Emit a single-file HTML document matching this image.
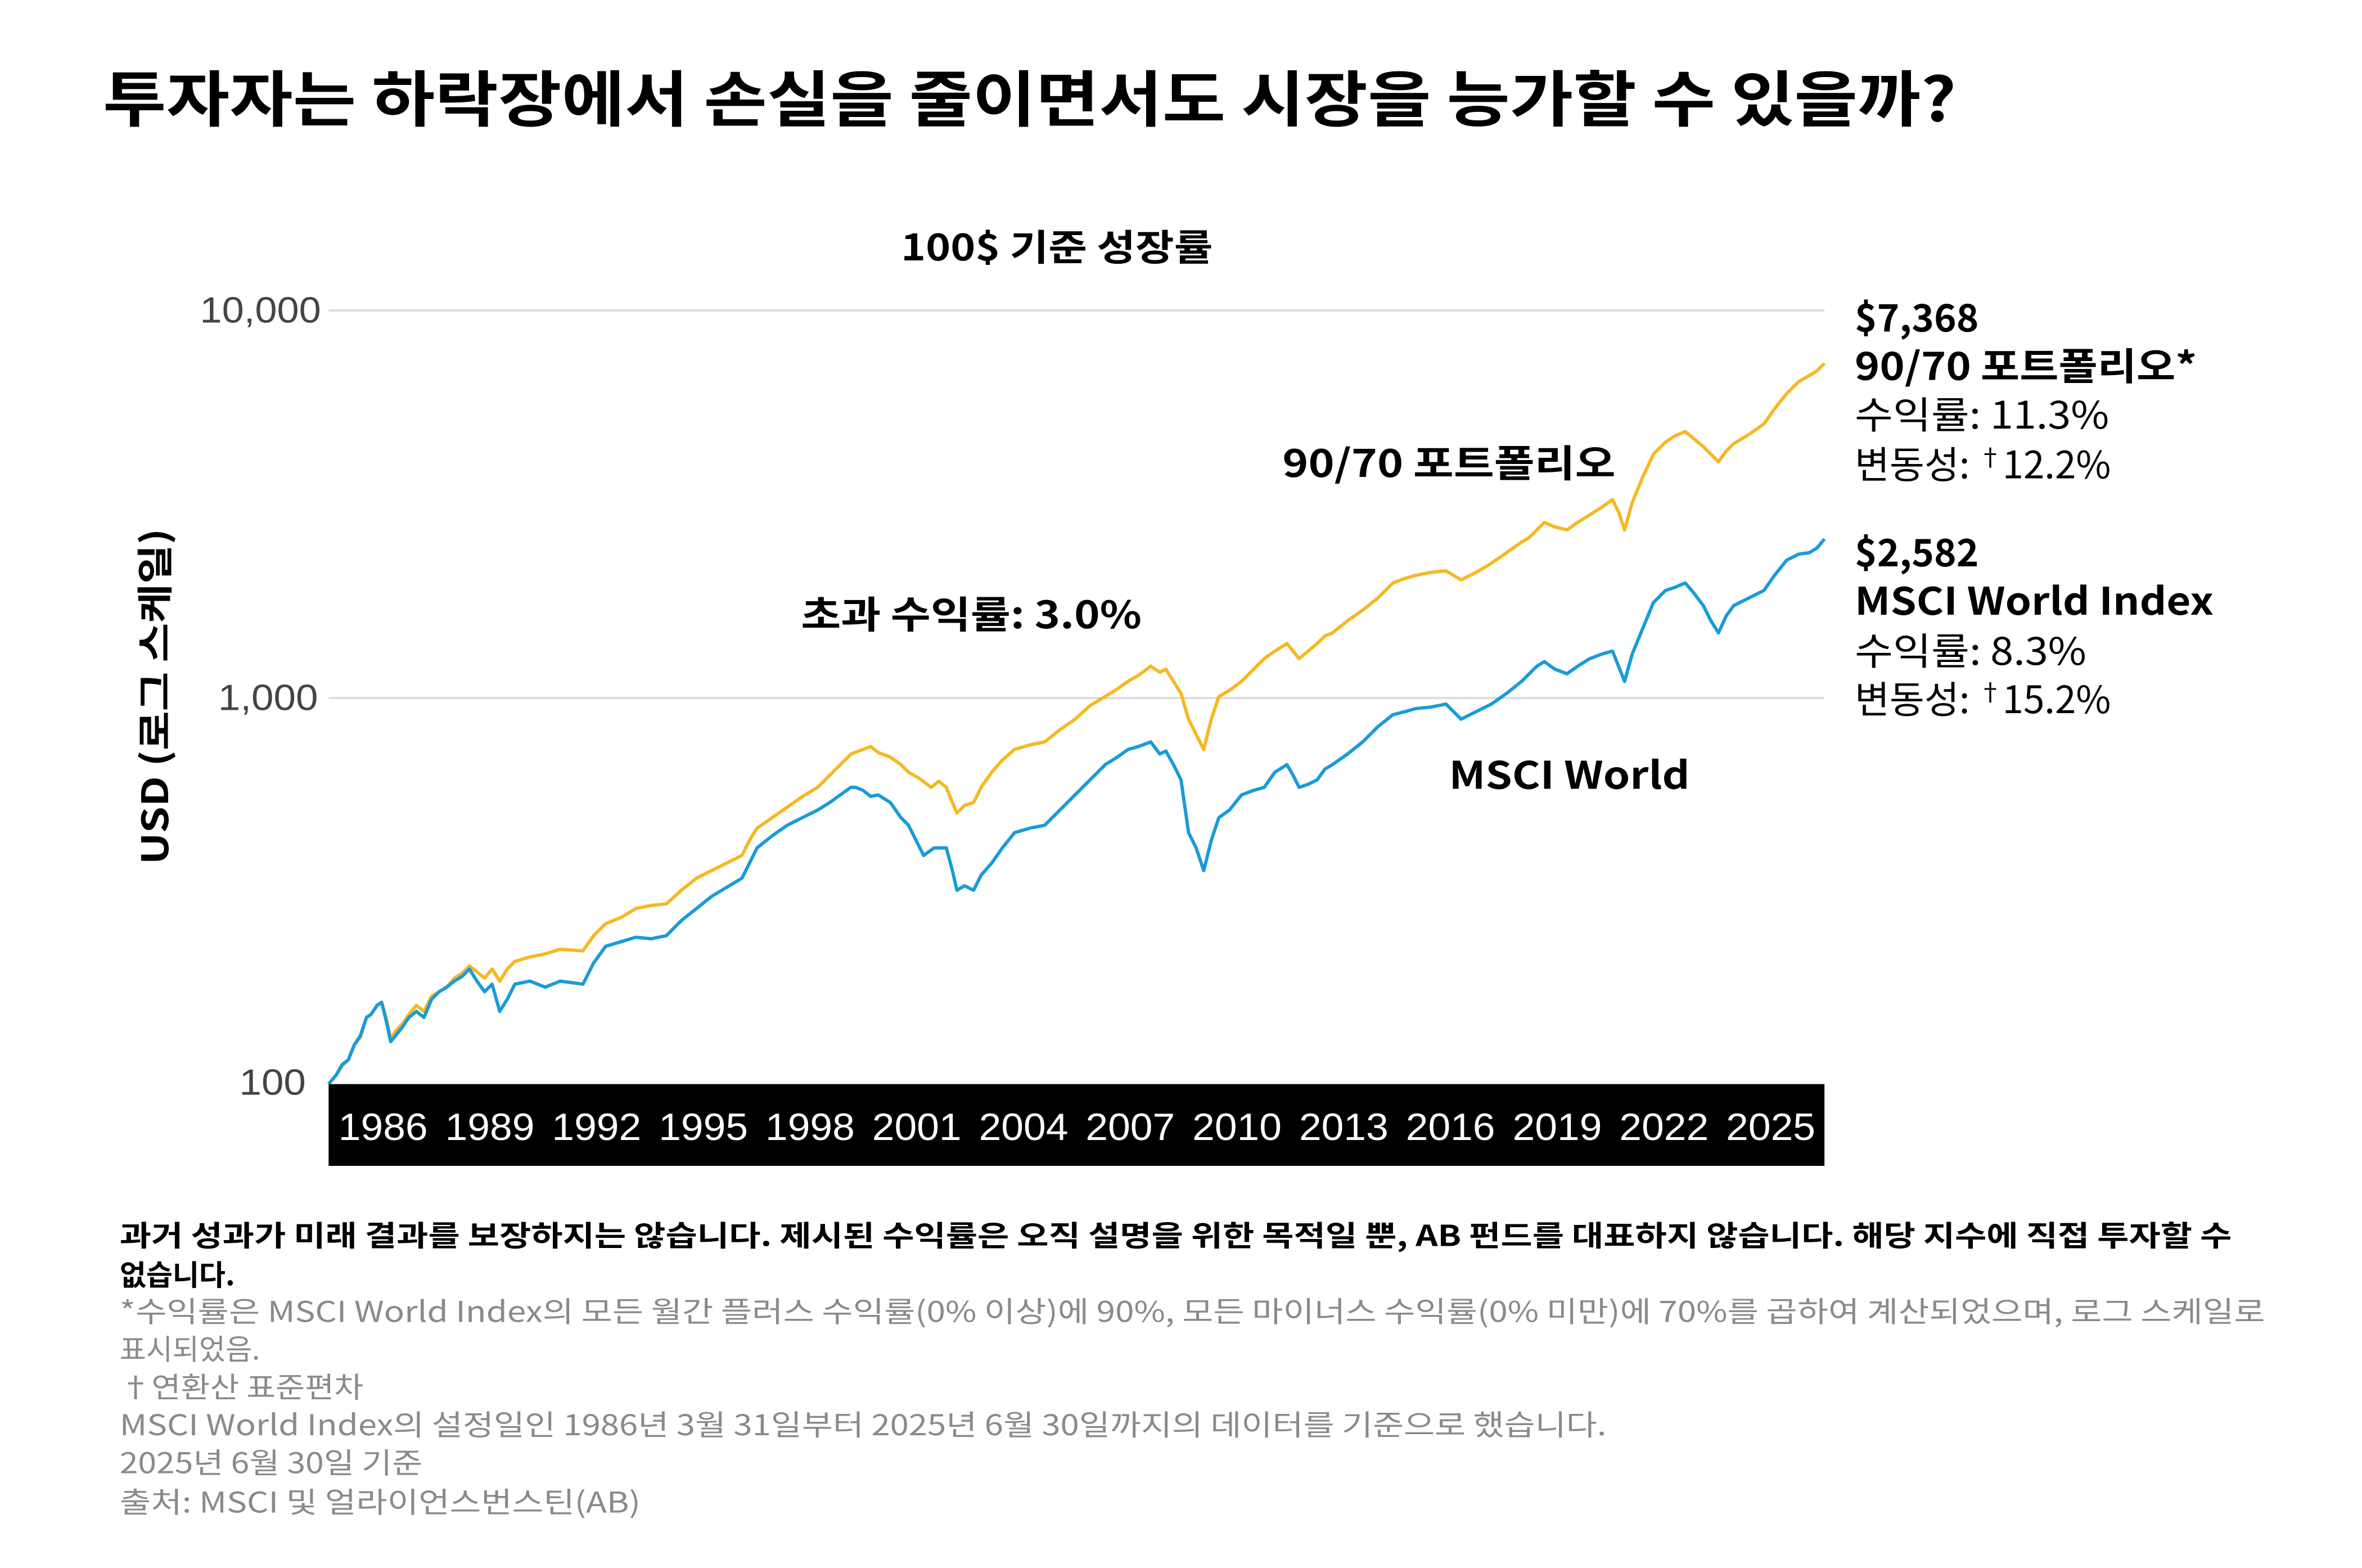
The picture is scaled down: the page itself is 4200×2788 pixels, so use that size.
<!DOCTYPE html>
<html><head><meta charset="utf-8">
<style>
html,body{margin:0;padding:0;background:#fff;}
svg{display:block;}
.k{font-family:"Noto Sans CJK KR","Liberation Sans",sans-serif;}
.l{font-family:"Liberation Sans",sans-serif;}
</style></head>
<body>
<svg width="4200" height="2788" viewBox="0 0 1560 1035.6" xmlns="http://www.w3.org/2000/svg">
<rect width="1560" height="1036" fill="#fff"/>
<text class="k" x="68" y="80" font-size="40" font-weight="700" fill="#000" textLength="1224" lengthAdjust="spacingAndGlyphs">투자자는 하락장에서 손실을 줄이면서도 시장을 능가할 수 있을까?</text>
<text class="k" x="698" y="172" font-size="24" font-weight="700" text-anchor="middle" textLength="206" lengthAdjust="spacingAndGlyphs">100$ 기준 성장률</text>

<line x1="217" y1="205" x2="1205" y2="205" stroke="#ddd" stroke-width="1.5"/>
<line x1="217" y1="461" x2="1205" y2="461" stroke="#ddd" stroke-width="1.5"/>
<text class="l" x="212" y="213" font-size="24" fill="#444" text-anchor="end" textLength="80" lengthAdjust="spacingAndGlyphs">10,000</text>
<text class="l" x="210" y="469" font-size="24" fill="#444" text-anchor="end" textLength="66" lengthAdjust="spacingAndGlyphs">1,000</text>
<text class="l" x="202" y="723" font-size="24" fill="#444" text-anchor="end" textLength="44" lengthAdjust="spacingAndGlyphs">100</text>

<text class="k" transform="translate(111,460) rotate(-90)" font-size="24" font-weight="700" text-anchor="middle" textLength="222" lengthAdjust="spacingAndGlyphs">USD (로그 스케일)</text>

<polyline fill="none" stroke="#f6b824" stroke-width="2.2" stroke-linejoin="round" points="217,716 222,710 226,704 230,700 234,690 238,685 242,672 245,670 249,664 252,662 255,672 258,686 262,680 266,676 270,670 275,664 280,668 285,658 290,655 295,652 300,646 305,643 310,638 315,642 320,646 325,640 330,648 335,640 340,635 350,632 360,630 370,627 385,628 392,618 400,610 410,606 420,600 430,598 440,597 450,588 460,580 470,575 480,570 490,565 495,555 500,547 510,540 520,533 530,526 540,520 548,512 555,505 562,498 570,495 575,493 580,497 588,500 595,505 600,510 607,514 615,520 620,516 625,520 629,530 632,537 637,532 643,530 648,520 655,510 662,502 670,495 680,492 690,490 700,482 710,475 720,466 730,460 738,455 745,450 752,446 760,440 766,444 770,442 775,450 780,458 785,475 790,485 795,495 800,475 805,460 812,456 820,450 828,442 835,435 842,430 850,425 854,430 858,435 864,430 870,425 875,420 880,418 890,410 900,403 910,395 920,385 928,382 935,380 945,378 955,377 960,380 965,383 975,378 985,372 995,365 1005,358 1010,355 1015,350 1020,345 1027,348 1035,350 1042,345 1050,340 1058,335 1065,330 1069,338 1073,350 1078,332 1085,315 1092,300 1100,292 1106,288 1113,285 1119,290 1125,295 1130,300 1135,305 1140,298 1145,293 1155,287 1165,280 1172,270 1180,260 1188,252 1195,248 1200,245 1205,240"/>

<polyline fill="none" stroke="#1a9bd8" stroke-width="2.2" stroke-linejoin="round" points="217,716 222,710 226,703 230,700 234,690 238,684 242,672 245,670 249,664 252,662 255,674 258,688 262,683 266,678 270,672 275,668 280,672 285,660 290,655 295,652 300,648 305,645 310,640 315,648 320,655 325,650 330,668 335,660 340,650 350,648 360,652 370,648 385,650 392,636 400,625 410,622 420,619 430,620 440,618 450,608 460,600 470,592 480,586 490,580 495,570 500,560 510,552 520,545 530,540 540,535 548,530 555,525 562,520 565,520 570,522 575,526 580,525 588,530 595,540 600,545 605,555 610,565 617,560 625,560 629,575 632,588 637,585 643,588 648,578 655,570 662,560 670,550 680,547 690,545 700,535 710,525 720,515 730,505 738,500 745,495 752,493 760,490 766,498 770,496 775,505 780,515 785,550 790,560 795,575 800,555 805,540 812,535 820,525 828,522 835,520 842,510 850,505 854,512 858,520 864,518 870,515 875,508 880,505 890,498 900,490 910,480 920,472 928,470 935,468 945,467 955,465 960,470 965,475 975,470 985,465 995,458 1005,450 1010,445 1015,440 1020,437 1027,442 1035,445 1042,440 1050,435 1058,432 1065,430 1069,440 1073,450 1078,432 1085,415 1092,398 1100,390 1106,388 1113,385 1119,392 1125,400 1130,410 1135,418 1140,407 1145,400 1155,395 1165,390 1172,380 1180,370 1188,366 1195,365 1200,362 1205,356"/>

<rect x="217" y="716" width="988" height="54" fill="#000"/>
<g class="l" font-size="25" fill="#fff" text-anchor="middle">
<text x="253" y="753" textLength="59" lengthAdjust="spacingAndGlyphs">1986</text><text x="323.5" y="753" textLength="59" lengthAdjust="spacingAndGlyphs">1989</text><text x="394" y="753" textLength="59" lengthAdjust="spacingAndGlyphs">1992</text><text x="464.5" y="753" textLength="59" lengthAdjust="spacingAndGlyphs">1995</text><text x="535" y="753" textLength="59" lengthAdjust="spacingAndGlyphs">1998</text><text x="605.5" y="753" textLength="59" lengthAdjust="spacingAndGlyphs">2001</text><text x="676" y="753" textLength="59" lengthAdjust="spacingAndGlyphs">2004</text><text x="746.5" y="753" textLength="59" lengthAdjust="spacingAndGlyphs">2007</text><text x="817" y="753" textLength="59" lengthAdjust="spacingAndGlyphs">2010</text><text x="887.5" y="753" textLength="59" lengthAdjust="spacingAndGlyphs">2013</text><text x="958" y="753" textLength="59" lengthAdjust="spacingAndGlyphs">2016</text><text x="1028.5" y="753" textLength="59" lengthAdjust="spacingAndGlyphs">2019</text><text x="1099" y="753" textLength="59" lengthAdjust="spacingAndGlyphs">2022</text><text x="1169.5" y="753" textLength="59" lengthAdjust="spacingAndGlyphs">2025</text>
</g>

<text class="k" x="847" y="315" font-size="25" font-weight="700" textLength="220" lengthAdjust="spacingAndGlyphs">90/70 포트폴리오</text>
<text class="k" x="529" y="415" font-size="25" font-weight="700" textLength="225" lengthAdjust="spacingAndGlyphs">초과 수익률: 3.0%</text>
<text class="k" x="957" y="521" font-size="25" font-weight="700" textLength="159" lengthAdjust="spacingAndGlyphs">MSCI World</text>

<g class="k" font-size="25">
<text x="1225" y="219" font-weight="700">$7,368</text>
<text x="1225" y="251" font-weight="700" textLength="226" lengthAdjust="spacingAndGlyphs">90/70 포트폴리오*</text>
<text x="1225" y="283" textLength="168" lengthAdjust="spacingAndGlyphs">수익률: 11.3%</text>
<text x="1225" y="316">변동성: <tspan font-size="16" dy="-8">†</tspan><tspan dy="8">12.2%</tspan></text>
<text x="1225" y="374" font-weight="700">$2,582</text>
<text x="1225" y="406" font-weight="700" textLength="237" lengthAdjust="spacingAndGlyphs">MSCI World Index</text>
<text x="1225" y="439" textLength="153" lengthAdjust="spacingAndGlyphs">수익률: 8.3%</text>
<text x="1225" y="471">변동성: <tspan font-size="16" dy="-8">†</tspan><tspan dy="8">15.2%</tspan></text>
</g>

<g class="k" font-size="19">
<text x="79" y="823" font-weight="700" textLength="1395" lengthAdjust="spacingAndGlyphs">과거 성과가 미래 결과를 보장하지는 않습니다. 제시된 수익률은 오직 설명을 위한 목적일 뿐, AB 펀드를 대표하지 않습니다. 해당 지수에 직접 투자할 수</text>
<text x="79" y="849" font-weight="700">없습니다.</text>
<g fill="#8a8a8a">
<text x="79" y="873" textLength="1417" lengthAdjust="spacingAndGlyphs">*수익률은 MSCI World Index의 모든 월간 플러스 수익률(0% 이상)에 90%, 모든 마이너스 수익률(0% 미만)에 70%를 곱하여 계산되었으며, 로그 스케일로</text>
<text x="79" y="898">표시되었음.</text>
<text x="79" y="923" textLength="161" lengthAdjust="spacingAndGlyphs">†연환산 표준편차</text>
<text x="79" y="948" textLength="982" lengthAdjust="spacingAndGlyphs">MSCI World Index의 설정일인 1986년 3월 31일부터 2025년 6월 30일까지의 데이터를 기준으로 했습니다.</text>
<text x="79" y="973" textLength="200" lengthAdjust="spacingAndGlyphs">2025년 6월 30일 기준</text>
<text x="79" y="999" textLength="344" lengthAdjust="spacingAndGlyphs">출처: MSCI 및 얼라이언스번스틴(AB)</text>
</g>
</g>
</svg>
</body></html>
